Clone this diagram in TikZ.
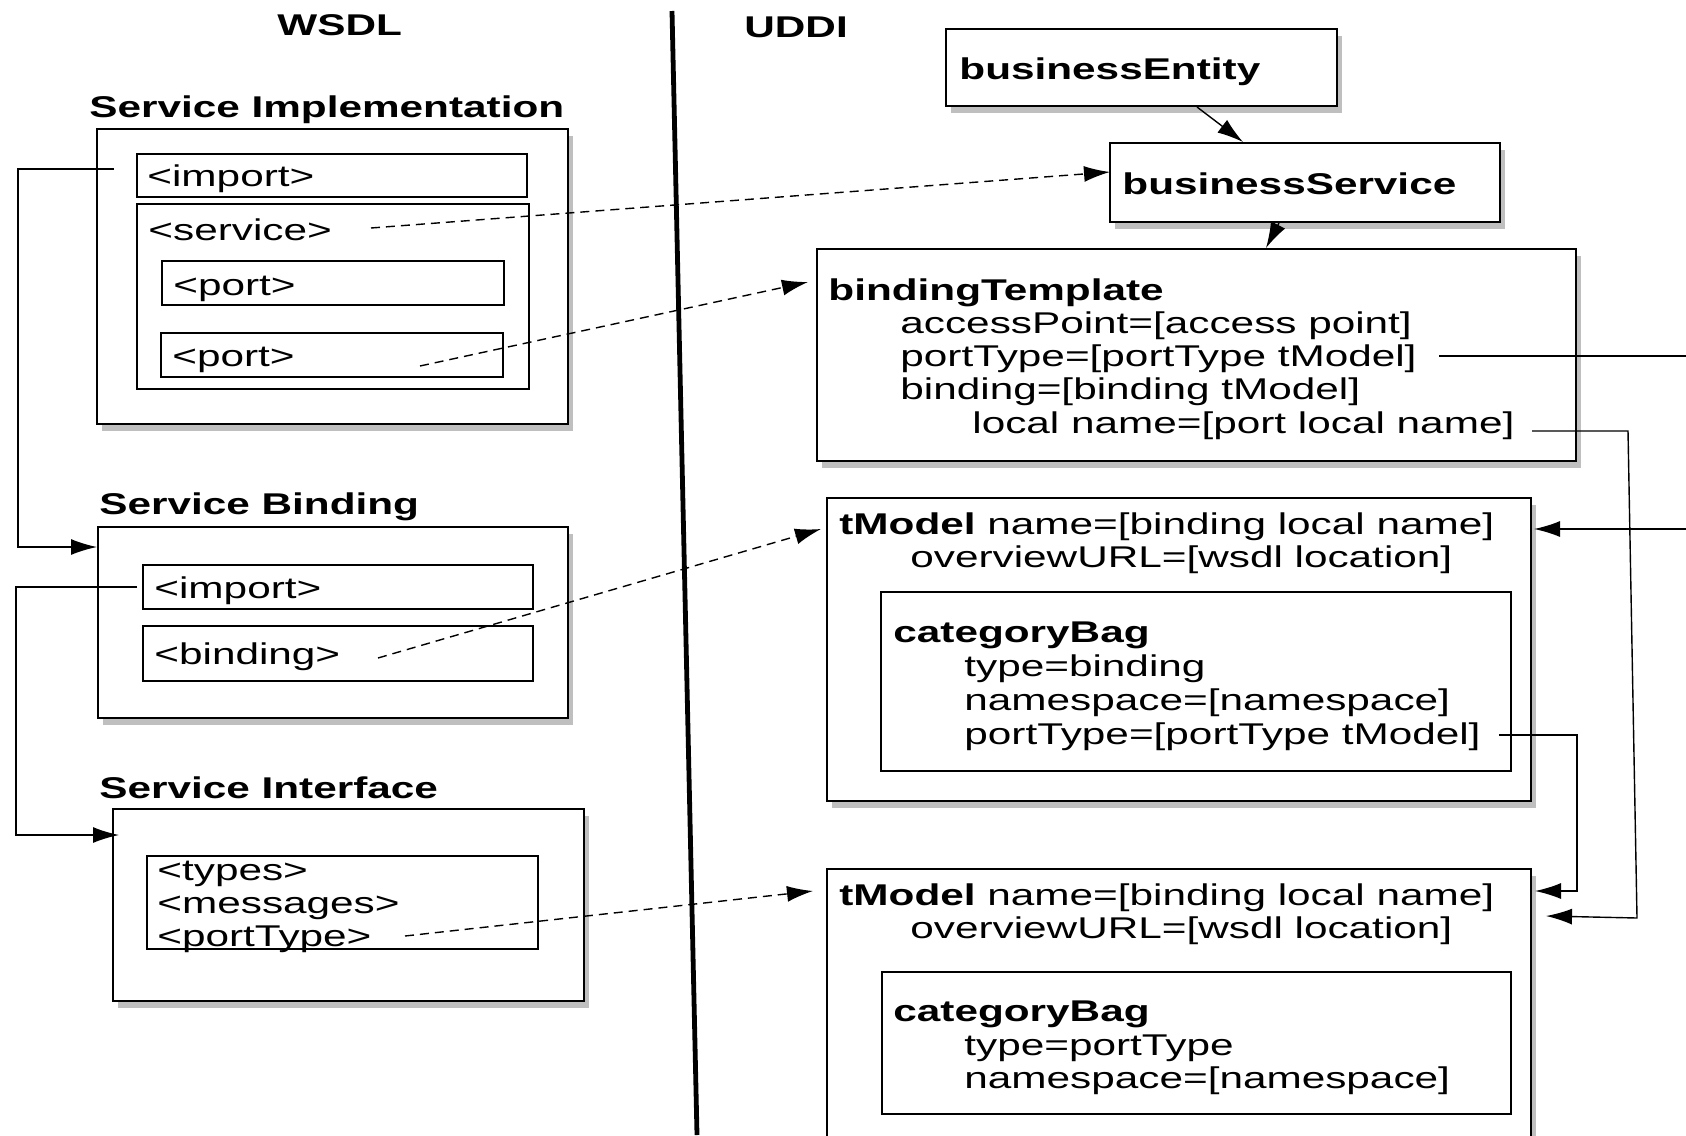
\documentclass[tikz,border=0pt]{standalone}
\usepackage{fontspec}
\setmainfont{Liberation Sans}[FakeStretch=1.41]
\usetikzlibrary{positioning, fit, shadows, arrows.meta, calc}

\begin{document}
\begin{tikzpicture}[
		x=0.5pt, y=-0.5pt,
		>={Latex[length=13pt,width=8pt]},
		Box/.style={draw=black, line width=1pt, fill=white, inner sep=0pt},
		Panel/.style={Box, drop shadow={shadow xshift=2.5pt, shadow yshift=-3.5pt, opacity=0.25, fill=black}},
		Txt/.style={anchor=base west, inner sep=0pt, font=\fontsize{15pt}{16.5pt}\selectfont},
		Head/.style={Txt, font=\fontsize{15pt}{16.5pt}\selectfont\bfseries},
		Link/.style={line width=0.7pt},
		Ref/.style={line width=0.7pt, dash pattern=on 4.5pt off 3pt}
	]
	\useasboundingbox (0,0) rectangle (1686,1135);
	\fill[white] (0,0) rectangle (1686,1135);
	\clip (0,0) rectangle (1686,1135);

	% column split
	\coordinate (divTop) at (672,11);
	\coordinate (divBot) at (697,1135);
	\draw[line width=2.4pt] (divTop) -- (divBot);
	\node[Head] (wsdlLbl) at (277,35) {WSDL};
	\node[Head] (uddiLbl) at (744,38) {UDDI};

	% WSDL side
	\node[Head] (siLbl) at (89,117) {Service Implementation};
	\node[Panel, fit={(97,129) (568,424)}] (siBox) {};
	\node[Box, fit={(137,154) (527,197)}] (siImport) {};
	\node[Box, fit={(137,204) (529,389)}] (siService) {};
	\node[Box, fit={(162,261) (504,305)}] (siPort1) {};
	\node[Box, fit={(161,333) (503,377)}] (siPort2) {};
	\node[Txt] (siImpTxt) at (147,186) {<import>};
	\node[Txt] (siSvcTxt) at (148,240) {<service>};
	\node[Txt] (siPort1Txt) at (173,295) {<port>};
	\node[Txt] (siPort2Txt) at (172,366) {<port>};

	\node[Head] (sbLbl) at (99,514) {Service Binding};
	\node[Panel, fit={(98,527) (568,718)}] (sbBox) {};
	\node[Box, fit={(143,565) (533,609)}] (sbImport) {};
	\node[Box, fit={(143,626) (533,681)}] (sbBinding) {};
	\node[Txt] (sbImpTxt) at (154,598) {<import>};
	\node[Txt] (sbBindTxt) at (154,664) {<binding>};

	\node[Head] (ifLbl) at (99,798) {Service Interface};
	\node[Panel, fit={(113,809) (584,1001)}] (ifBox) {};
	\node[Box, fit={(147,856) (538,949)}] (ifInner) {};
	\foreach \tag [count=\i] in {<types>, <messages>, <portType>}
		\node[Txt] (ifTxt\i) at (157,847+33*\i) {\tag};

	% UDDI side
	\node[Panel, fit={(946,29) (1337,106)}] (beBox) {};
	\node[Head] (beTxt) at (959,79) {businessEntity};
	\node[Panel, fit={(1110,143) (1500,222)}] (bsBox) {};
	\node[Head] (bsTxt) at (1122,194) {businessService};

	\node[Panel, fit={(817,249) (1576,461)}] (btBox) {};
	\node[Head] (btHead) at (828,300) {bindingTemplate};
	\foreach \line [count=\i] in {{accessPoint=[access point]}, {portType=[portType tModel]}, {binding=[binding tModel]}}
		\node[Txt] (bt\i) at (900,300+33*\i) {\line};
	\node[Txt] (btLocal) at (972,433) {local name=[port local name]};

	\node[Panel, fit={(827,498) (1531,801)}] (tm1Box) {};
	\node[Box, fit={(881,592) (1511,771)}] (tm1Bag) {};
	\node[Txt] (tm1Name) at (839,534) {\textbf{tModel} name=[binding local name]};
	\node[Txt] (tm1Url) at (910,567) {overviewURL=[wsdl location]};
	\node[Head] (tm1BagHead) at (893,642) {categoryBag};
	\node[Txt] (tm1Type) at (964,676) {type=binding};
	\node[Txt] (tm1Ns) at (964,710) {namespace=[namespace]};
	\node[Txt] (tm1Pt) at (964,744) {portType=[portType tModel]};

	\node[Panel, fit={(827,869) (1531,1150)}] (tm2Box) {};
	\node[Box, fit={(882,972) (1511,1114)}] (tm2Bag) {};
	\node[Txt] (tm2Name) at (839,905) {\textbf{tModel} name=[binding local name]};
	\node[Txt] (tm2Url) at (910,938) {overviewURL=[wsdl location]};
	\node[Head] (tm2BagHead) at (893,1021) {categoryBag};
	\node[Txt] (tm2Type) at (964,1055) {type=portType};
	\node[Txt] (tm2Ns) at (964,1088) {namespace=[namespace]};

	% imports
	\coordinate (siImpTail) at ($(siBox.north west)+(18,41)$);
	\draw[Link, ->] (siImpTail) -- ++(-96,0) |- ($(sbBox.north west)+(0,21)$);
	\coordinate (sbImpTail) at ($(sbImport.west)+(-5,0)$);
	\draw[Link, ->] (sbImpTail) -- ++(-121,0) |- ($(ifBox.north west)+(7,27)$);

	% mapping WSDL -> UDDI
	\coordinate (svcTail) at ($(siService.north west)+(235,25)$);
	\draw[Ref, ->] (svcTail) -- ($(bsBox.north west)+(1,30)$);
	\coordinate (portTail) at ($(siPort2.south west)+(260,-12)$);
	\draw[Ref, ->] (portTail) -- ($(btBox.north west)+(-8,34)$);
	\coordinate (bindTail) at ($(sbBinding.south west)+(236,-24)$);
	\draw[Ref, ->] (bindTail) -- ($(tm1Box.north west)+(-5,32)$);
	\coordinate (ptypeTail) at ($(ifInner.south west)+(259,-14)$);
	\draw[Ref, ->] (ptypeTail) -- ($(tm2Box.north west)+(-13,23)$);

	% UDDI structure
	\draw[Link, ->] ($(beBox.south west)+(252,0)$) -- ($(bsBox.north west)+(134,0)$);
	\draw[Link, ->] ($(bsBox.south west)+(170,0)$) -- ($(btBox.north west)+(450,0)$);

	\coordinate (ptTail) at ($(btBox.north east)+(-138,108)$);
	\draw[Link, ->] (ptTail) -- ++(270,0) |- ($(tm1Box.north east)+(2,32)$);
	\coordinate (lnTail) at ($(btBox.south east)+(-45,-31)$);
	\draw[Link, ->] (lnTail) -- ++(96,0) -- ++(9,487) -- ($(tm2Box.north east)+(14,48)$);
	\coordinate (bagTail) at ($(tm1Bag.south east)+(-13,-37)$);
	\draw[Link, ->] (bagTail) -- ++(78,0) |- ($(tm2Box.north east)+(3,23)$);
\end{tikzpicture}
\end{document}
